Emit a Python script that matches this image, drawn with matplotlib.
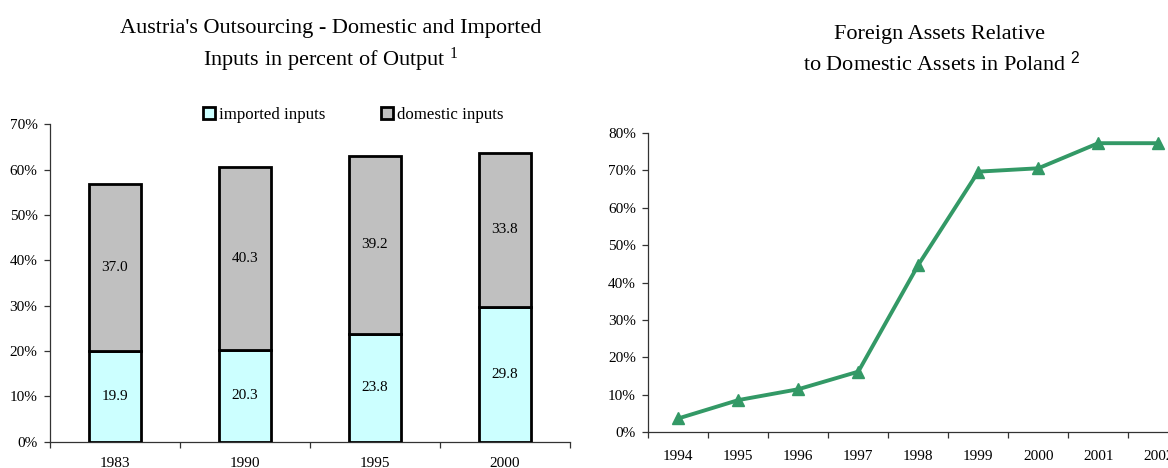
import matplotlib
matplotlib.use("Agg")
import matplotlib.pyplot as plt
import numpy as np
from matplotlib.ticker import FixedLocator, PercentFormatter

# Austria: inputs in percent of output
years_at = ["1983", "1990", "1995", "2000"]
imported = [19.9, 20.3, 23.8, 29.8]
domestic = [37.0, 40.3, 39.2, 33.8]
series_names = ["imported inputs", "domestic inputs"]

# Poland: foreign assets relative to domestic assets (percent)
years_pl = ["1994", "1995", "1996", "1997", "1998", "1999", "2000", "2001", "2002"]
foreign_share = [3.7, 8.6, 11.5, 16.2, 44.7, 69.6, 70.5, 77.2, 77.2]

plt.rcParams["font.family"] = ["Liberation Serif", "DejaVu Serif"]
plt.rcParams["mathtext.fontset"] = "custom"
plt.rcParams["mathtext.rm"] = "Liberation Serif"
plt.rcParams["mathtext.sf"] = "Liberation Sans"
plt.rcParams["mathtext.default"] = "regular"

FIG_W, FIG_H = 1168, 468
fig = plt.figure(figsize=(FIG_W / 100, FIG_H / 100), dpi=100)

TICK_FS = 11
TITLE_FS = 16
AX_COLOR = "#333333"


def style_axes(ax, ncat):
    for side in ("top", "right"):
        ax.spines[side].set_visible(False)
    for side in ("left", "bottom"):
        ax.spines[side].set_linewidth(0.9)
        ax.spines[side].set_color(AX_COLOR)
    ax.set_xlim(-0.5, ncat - 0.5)
    ax.xaxis.set_minor_locator(FixedLocator(np.arange(ncat + 1) - 0.5))
    ax.tick_params(axis="x", which="major", length=0, pad=11, labelsize=TICK_FS)
    ax.tick_params(axis="x", which="minor", length=4, width=0.9, color=AX_COLOR, direction="out")
    ax.tick_params(axis="y", which="major", length=4, width=0.9, color=AX_COLOR,
                   direction="out", pad=5, labelsize=TICK_FS)
    ax.yaxis.set_major_formatter(PercentFormatter(decimals=0))


# ---- Left: stacked bars ----
ax1 = fig.add_axes([50 / FIG_W, 1 - 441.7 / FIG_H, 520 / FIG_W, 317.4 / FIG_H])
x1 = np.arange(len(years_at))
bw = 0.4
b_imp = ax1.bar(x1, imported, bw, color="#CCFFFF", edgecolor="black", linewidth=2.0,
                label=series_names[0], zorder=3)
b_dom = ax1.bar(x1, domestic, bw, bottom=imported, color="#C0C0C0", edgecolor="black",
                linewidth=2.0, label=series_names[1], zorder=3)
ax1.bar_label(b_imp, labels=[f"{v:.1f}" for v in imported], label_type="center",
              fontsize=11, zorder=4)
ax1.bar_label(b_dom, labels=[f"{v:.1f}" for v in domestic], label_type="center",
              fontsize=11, zorder=4)
ax1.set_ylim(0, 70)
ax1.set_yticks(np.arange(0, 71, 10))
ax1.set_xticks(x1)
ax1.set_xticklabels(years_at)
style_axes(ax1, len(years_at))
leg = ax1.legend(loc="center", bbox_to_anchor=(0.583, 1.029), ncol=2, frameon=False,
                 fontsize=12.2, handlelength=0.72, handleheight=0.72, handletextpad=0.2,
                 columnspacing=3.3, borderpad=0)

fig.text(331 / FIG_W, 1 - 29 / FIG_H, "Austria's Outsourcing - Domestic and Imported",
         ha="center", va="center", fontsize=TITLE_FS)
fig.text(331 / FIG_W, 1 - 60 / FIG_H, "Inputs in percent of Output$^{\\ 1}$",
         ha="center", va="center", fontsize=TITLE_FS)

# ---- Right: line chart ----
ax2 = fig.add_axes([648.3 / FIG_W, 1 - 432.3 / FIG_H, 540 / FIG_W, 299.6 / FIG_H])
x2 = np.arange(len(years_pl))
ax2.plot(x2, foreign_share, color="#339966", linewidth=2.8, marker="^", markersize=8,
         markerfacecolor="#339966", markeredgecolor="#339966", clip_on=False, zorder=3)
ax2.set_ylim(0, 80)
ax2.set_yticks(np.arange(0, 81, 10))
ax2.set_xticks(x2)
ax2.set_xticklabels(years_pl)
style_axes(ax2, len(years_pl))
ax2.tick_params(axis="x", which="major", pad=13)

fig.text(940 / FIG_W, 1 - 35 / FIG_H, "Foreign Assets Relative",
         ha="center", va="center", fontsize=TITLE_FS)
fig.text(942 / FIG_W, 1 - 63 / FIG_H, "to Domestic Assets in Poland$^{\\ \\mathsf{2}}$",
         ha="center", va="center", fontsize=TITLE_FS)

fig.savefig("out.png", dpi=100)
